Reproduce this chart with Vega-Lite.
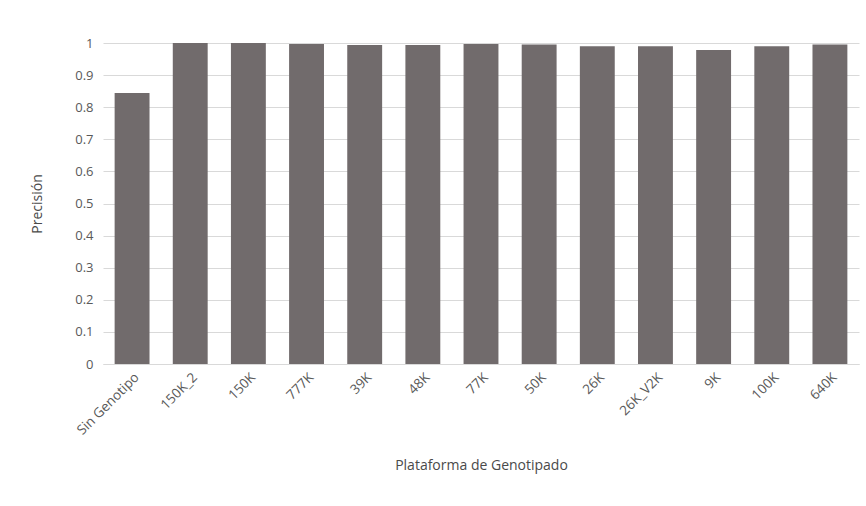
{
  "$schema": "https://vega.github.io/schema/vega-lite/v6.json",
  "width": 756,
  "height": 321,
  "autosize": {"type": "none"},
  "padding": {"left": 103, "top": 43, "right": 7, "bottom": 142},
  "background": "white",
  "config": {
    "view": {"stroke": null},
    "font": "Open Sans",
    "axis": {"labelColor": "#595959", "titleColor": "#4a4a4a", "labelFont": "Open Sans", "titleFont": "Open Sans", "titleFontWeight": "normal"}
  },
  "data": {
    "values": [
      {"plataforma": "Sin Genotipo", "precision": 0.844},
      {"plataforma": "150K_2", "precision": 1.0},
      {"plataforma": "150K", "precision": 1.0},
      {"plataforma": "777K", "precision": 0.997},
      {"plataforma": "39K", "precision": 0.994},
      {"plataforma": "48K", "precision": 0.994},
      {"plataforma": "77K", "precision": 0.997},
      {"plataforma": "50K", "precision": 0.995},
      {"plataforma": "26K", "precision": 0.99},
      {"plataforma": "26K_V2K", "precision": 0.99},
      {"plataforma": "9K", "precision": 0.978},
      {"plataforma": "100K", "precision": 0.99},
      {"plataforma": "640K", "precision": 0.995}
    ]
  },
  "mark": {"type": "bar", "color": "#716b6c"},
  "encoding": {
    "x": {
      "field": "plataforma",
      "type": "nominal",
      "sort": null,
      "scale": {"paddingInner": 0.4, "paddingOuter": 0.2},
      "axis": {
        "title": "Plataforma de Genotipado",
        "titleFontSize": 14,
        "titlePadding": 22,
        "labelAngle": -45,
        "labelFontSize": 13.5,
        "labelPadding": 6,
        "ticks": false,
        "domainColor": "#d9d9d9"
      }
    },
    "y": {
      "field": "precision",
      "type": "quantitative",
      "scale": {"domain": [0, 1], "nice": false},
      "axis": {
        "title": "Precisión",
        "titleFontSize": 14,
        "titlePadding": 30,
        "values": [0, 0.1, 0.2, 0.3, 0.4, 0.5, 0.6, 0.7, 0.8, 0.9, 1],
        "format": ".1~f",
        "labelFontSize": 13,
        "labelPadding": 10,
        "ticks": false,
        "domain": false,
        "gridColor": "#d9d9d9"
      }
    }
  }
}
